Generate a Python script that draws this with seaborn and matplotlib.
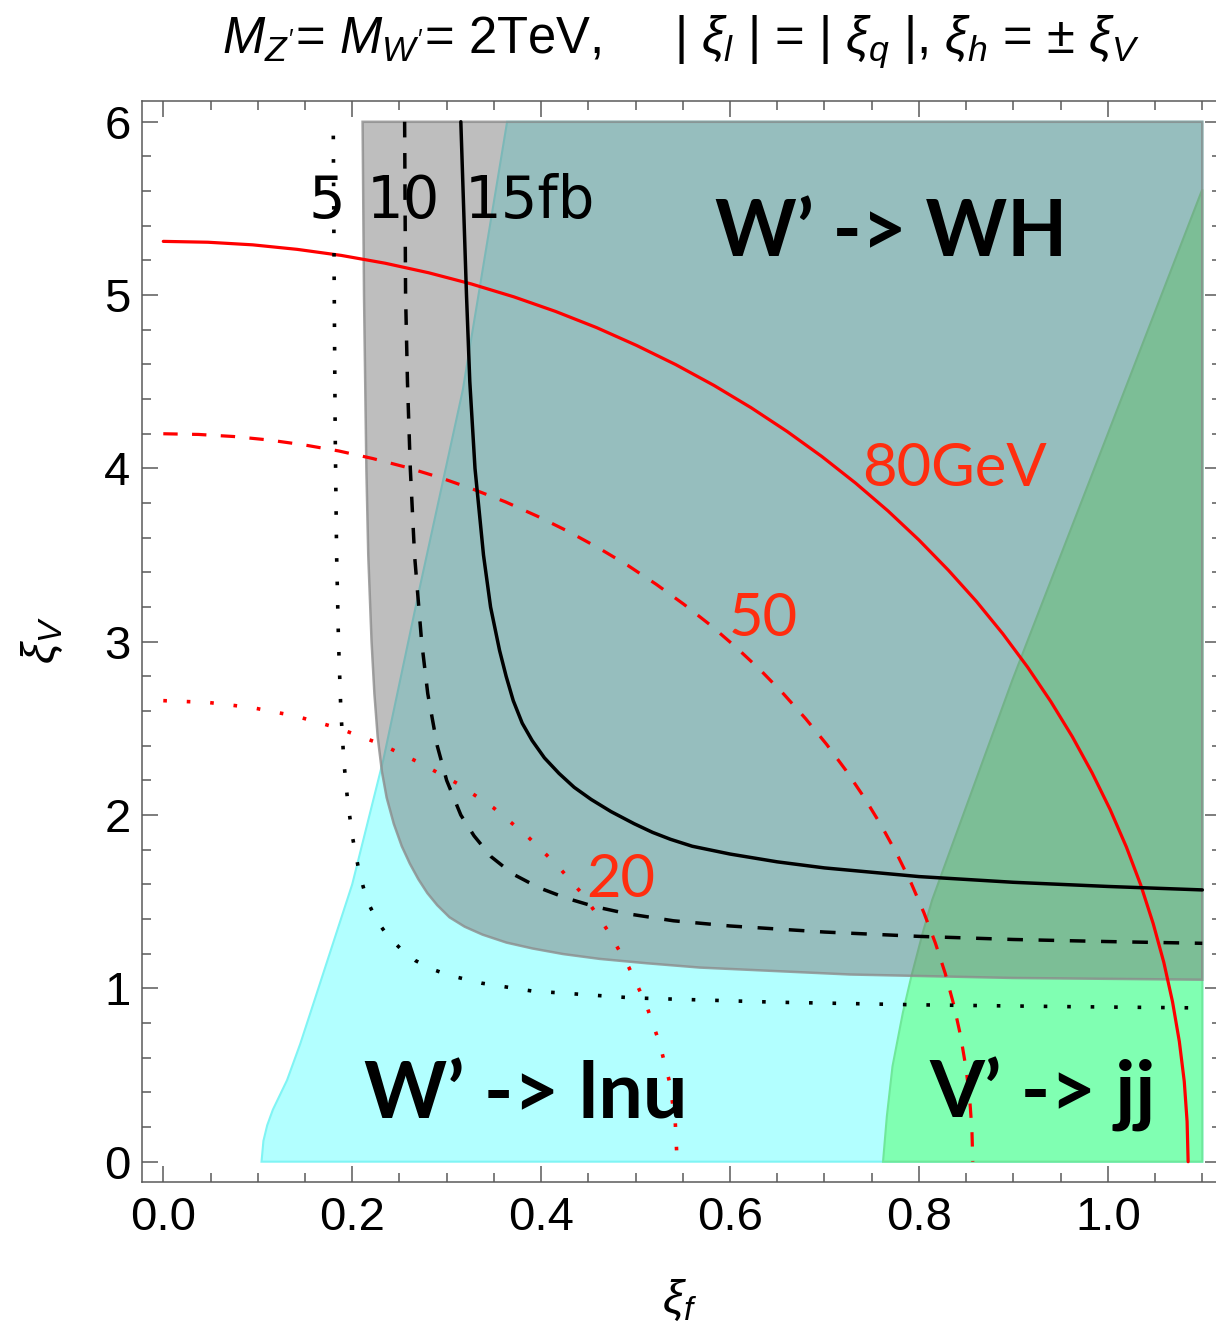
import numpy as np
import matplotlib
matplotlib.use("Agg")
import matplotlib.pyplot as plt
from matplotlib.ticker import MultipleLocator
import seaborn as sns

# ---------------- data ----------------
# red contours (mass splitting 80, 50, 20 GeV)
red80_x = [0.0, 0.0473, 0.0946, 0.1416, 0.1884, 0.2348, 0.2808, 0.3263, 0.3711, 0.4152,
           0.4585, 0.5009, 0.5425, 0.5830, 0.6224, 0.6605, 0.6974, 0.7330, 0.7672, 0.8000,
           0.8311, 0.8608, 0.8888, 0.9151, 0.9396, 0.9624, 0.9833, 1.0024, 1.0196, 1.0348,
           1.0480, 1.0593, 1.0685, 1.0757, 1.0809, 1.0839, 1.085]
red80_y = [5.31, 5.305, 5.290, 5.264, 5.229, 5.184, 5.129, 5.064, 4.990, 4.906,
           4.813, 4.710, 4.599, 4.479, 4.350, 4.213, 4.068, 3.915, 3.755, 3.587,
           3.413, 3.233, 3.046, 2.853, 2.655, 2.452, 2.244, 2.032, 1.816, 1.597,
           1.374, 1.149, 0.922, 0.693, 0.463, 0.232, 0.0]
red50_x = [0.0, 0.0374, 0.0747, 0.1118, 0.1488, 0.1855, 0.2218, 0.2577, 0.2931, 0.3280,
           0.3622, 0.3957, 0.4285, 0.4605, 0.4916, 0.5217, 0.5509, 0.5790, 0.6060, 0.6319,
           0.6565, 0.6799, 0.7021, 0.7228, 0.7422, 0.7602, 0.7767, 0.7918, 0.8053, 0.8173,
           0.8278, 0.8367, 0.8440, 0.8496, 0.8537, 0.8561, 0.857]
red50_y = [4.20, 4.196, 4.184, 4.164, 4.136, 4.101, 4.057, 4.006, 3.947, 3.880,
           3.807, 3.725, 3.637, 3.542, 3.441, 3.332, 3.217, 3.097, 2.970, 2.838,
           2.700, 2.557, 2.409, 2.257, 2.100, 1.939, 1.775, 1.607, 1.436, 1.263,
           1.087, 0.909, 0.729, 0.548, 0.366, 0.183, 0.0]
red20_x = [0.0, 0.047, 0.094, 0.141, 0.186, 0.230, 0.272, 0.312, 0.350, 0.385,
           0.417, 0.446, 0.471, 0.493, 0.511, 0.525, 0.536, 0.542, 0.544]
red20_y = [2.66, 2.65, 2.62, 2.57, 2.50, 2.41, 2.30, 2.18, 2.04, 1.88,
           1.71, 1.53, 1.33, 1.12, 0.91, 0.69, 0.46, 0.23, 0.0]

# black contours (cross section 5, 10, 15 fb)
bk5_x = [0.180, 0.181, 0.182, 0.1835, 0.1855, 0.188, 0.1913, 0.1952, 0.2004, 0.2074,
         0.2135, 0.219, 0.2275, 0.238, 0.251, 0.267, 0.285, 0.303, 0.337, 0.390,
         0.497, 0.650, 0.800, 0.950, 1.100]
bk5_y = [5.92, 5.00, 4.20, 3.50, 3.00, 2.60, 2.30, 2.08, 1.87, 1.67,
         1.55, 1.47, 1.38, 1.30, 1.23, 1.16, 1.11, 1.075, 1.03, 0.985,
         0.945, 0.92, 0.905, 0.895, 0.887]
bk10_x = [0.2555, 0.2565, 0.2585, 0.2615, 0.266, 0.2735, 0.280, 0.290, 0.300, 0.315,
          0.329, 0.347, 0.370, 0.398, 0.427, 0.458, 0.492, 0.540, 0.600, 0.700,
          0.800, 0.900, 1.000, 1.100]
bk10_y = [6.00, 5.00, 4.50, 4.00, 3.50, 3.00, 2.70, 2.40, 2.20, 2.00,
          1.88, 1.76, 1.66, 1.58, 1.52, 1.47, 1.43, 1.39, 1.36, 1.325,
          1.30, 1.282, 1.27, 1.26]
bk15_x = [0.315, 0.318, 0.321, 0.3245, 0.330, 0.339, 0.3465, 0.356, 0.363, 0.3705,
          0.380, 0.3905, 0.4035, 0.419, 0.435, 0.453, 0.474, 0.4985, 0.518, 0.537,
          0.560, 0.600, 0.650, 0.700, 0.800, 0.900, 1.000, 1.100]
bk15_y = [6.00, 5.50, 5.00, 4.50, 4.00, 3.50, 3.20, 2.95, 2.80, 2.66,
          2.53, 2.43, 2.33, 2.24, 2.16, 2.09, 2.02, 1.95, 1.90, 1.86,
          1.82, 1.775, 1.73, 1.695, 1.645, 1.612, 1.588, 1.568]

# excluded regions: boundary curves
wh_x = [0.211, 0.2125, 0.215, 0.217, 0.2205, 0.2235, 0.227, 0.2315, 0.2365, 0.244,
        0.2525, 0.261, 0.270, 0.2795, 0.290, 0.303, 0.319, 0.338, 0.3634, 0.391,
        0.4233, 0.462, 0.5115, 0.568, 0.727, 0.900, 1.100]
wh_y = [6.00, 5.00, 4.00, 3.50, 3.00, 2.70, 2.45, 2.25, 2.10, 1.95,
        1.82, 1.72, 1.63, 1.55, 1.48, 1.41, 1.356, 1.31, 1.264, 1.23,
        1.198, 1.17, 1.145, 1.12, 1.08, 1.06, 1.05]
lnu_x = [0.104, 0.105, 0.106, 0.110, 0.116, 0.131, 0.145, 0.160, 0.200, 0.233,
         0.271, 0.317, 0.364]
lnu_y = [0.00, 0.06, 0.12, 0.21, 0.30, 0.47, 0.68, 0.93, 1.60, 2.32,
         3.30, 4.45, 6.00]
jj_x = [0.762, 0.764, 0.766, 0.772, 0.783, 0.792, 0.804, 0.814, 0.899, 1.00, 1.10]
jj_y = [0.00, 0.13, 0.26, 0.55, 0.86, 1.07, 1.32, 1.51, 2.78, 4.20, 5.61]

x_edge = 1.10
y_top = 6.0

xticks = [0.0, 0.2, 0.4, 0.6, 0.8, 1.0]
xtick_labels = ["0.0", "0.2", "0.4", "0.6", "0.8", "1.0"]
yticks = [0, 1, 2, 3, 4, 5, 6]
ytick_labels = ["0", "1", "2", "3", "4", "5", "6"]

# ---------------- style ----------------
sns.set_theme(style="ticks")
plt.rcParams['font.family'] = ['Liberation Sans', 'DejaVu Sans']
plt.rcParams['text.color'] = 'black'
plt.rcParams['mathtext.fontset'] = 'custom'
plt.rcParams['mathtext.rm'] = 'Liberation Sans'
plt.rcParams['mathtext.it'] = 'Liberation Sans:italic'

fig = plt.figure(figsize=(12.16, 13.27), dpi=100)
ax = fig.add_axes([0.1165, 0.1093, 0.888, 0.8146])

cyan = '#b2ffff'
green = '#80ffb2'

# W' -> l nu region (cyan)
ax.fill(lnu_x + [x_edge, x_edge], lnu_y + [y_top, 0.0],
        facecolor=cyan, edgecolor='#80f4f4', lw=1.5, zorder=1)
# V' -> jj region (green)
ax.fill(jj_x + [x_edge], jj_y + [0.0],
        facecolor=green, edgecolor='#6fe89a', lw=1.5, zorder=2)
# W' -> WH region (gray, translucent)
ax.fill(wh_x + [x_edge], wh_y + [y_top],
        facecolor=(120/255, 120/255, 120/255, 0.48),
        edgecolor=(0.55, 0.55, 0.55, 0.8), lw=1.8, zorder=3)

red = '#ff0000'
kw = dict(ax=ax, sort=False, estimator=None, legend=False)
sns.lineplot(x=red80_x, y=red80_y, color=red, lw=2.3, zorder=5, **kw)
sns.lineplot(x=red50_x, y=red50_y, color=red, lw=2.3, linestyle=(0, (4.5, 4.5)), zorder=5, **kw)
sns.lineplot(x=red20_x, y=red20_y, color=red, lw=2.6, linestyle=(0, (1, 5.5)), zorder=5, **kw)

sns.lineplot(x=bk5_x, y=bk5_y, color='black', lw=2.6, linestyle=(0, (1, 5.5)), zorder=6, **kw)
sns.lineplot(x=bk10_x, y=bk10_y, color='black', lw=2.5, linestyle=(0, (4.5, 4.5)), zorder=6, **kw)
sns.lineplot(x=bk15_x, y=bk15_y, color='black', lw=2.5, zorder=6, **kw)

# ---------------- text labels ----------------
lab_font = ['Lato', 'DejaVu Sans']
for s, xx in [("5", 0.173), ("10", 0.254), ("15fb", 0.388)]:
    ax.text(xx, 5.445, s, ha='center', va='baseline', fontsize=41.5,
            family=['DejaVu Sans'], color='black', zorder=8)
ax.text(0.771, 5.226, "W\u2019 -> WH", ha='center', va='baseline', fontsize=56,
        fontweight='bold', family=lab_font, color='black', zorder=8)
ax.text(0.384, 0.252, "W\u2019 -> lnu", ha='center', va='baseline', fontsize=57,
        fontweight='bold', family=lab_font, color='black', zorder=8)
ax.text(0.931, 0.257, "V\u2019 -> jj", ha='center', va='baseline', fontsize=57,
        fontweight='bold', family=lab_font, color='black', zorder=8)
redtxt = '#ff2d0f'
ax.text(0.838, 3.90, "80GeV", ha='center', va='baseline', fontsize=43,
        family=lab_font, color=redtxt, zorder=8)
ax.text(0.635, 3.033, "50", ha='center', va='baseline', fontsize=43,
        family=lab_font, color=redtxt, zorder=8)
ax.text(0.484, 1.527, "20", ha='center', va='baseline', fontsize=43,
        family=lab_font, color=redtxt, zorder=8)

# ---------------- axes ----------------
ax.set_xlim(-0.0229, 1.1203)
ax.set_ylim(-0.117, 6.12)
ax.set_xticks(xticks)
ax.set_xticklabels(xtick_labels)
ax.set_yticks(yticks)
ax.set_yticklabels(ytick_labels)
ax.xaxis.set_minor_locator(MultipleLocator(0.05))
ax.yaxis.set_minor_locator(MultipleLocator(0.2))
ax.tick_params(which='both', direction='in', top=True, right=True,
               color='#5a5a5a', width=1.1, labelsize=34, labelcolor='black')
ax.tick_params(which='major', length=11.5)
ax.tick_params(which='minor', length=6.5)
ax.tick_params(axis='x', pad=10)
ax.tick_params(axis='y', pad=8)
for sp in ax.spines.values():
    sp.set_color('#5a5a5a')
    sp.set_linewidth(1.1)
ax.set_xlabel("")
ax.set_ylabel("")
ax.grid(False)

fig.text(680/1216, 1 - 1300/1327, r"$\xi_f$", ha='center', va='center', fontsize=34,
         color='black')
fig.text(42/1216, 1 - 640/1327, r"$\xi_V$", ha='center', va='center', fontsize=34,
         rotation=90, color='black')

fig.text(681/1216, 1 - 42/1327,
         r"$M_{Z'}$= $M_{W'}$= 2TeV,     | $\xi_l$ | = | $\xi_q$ |, $\xi_h$ = $\pm$ $\xi_V$",
         ha='center', va='center', fontsize=36.5, color='black')

fig.savefig("out.png", dpi=100)
